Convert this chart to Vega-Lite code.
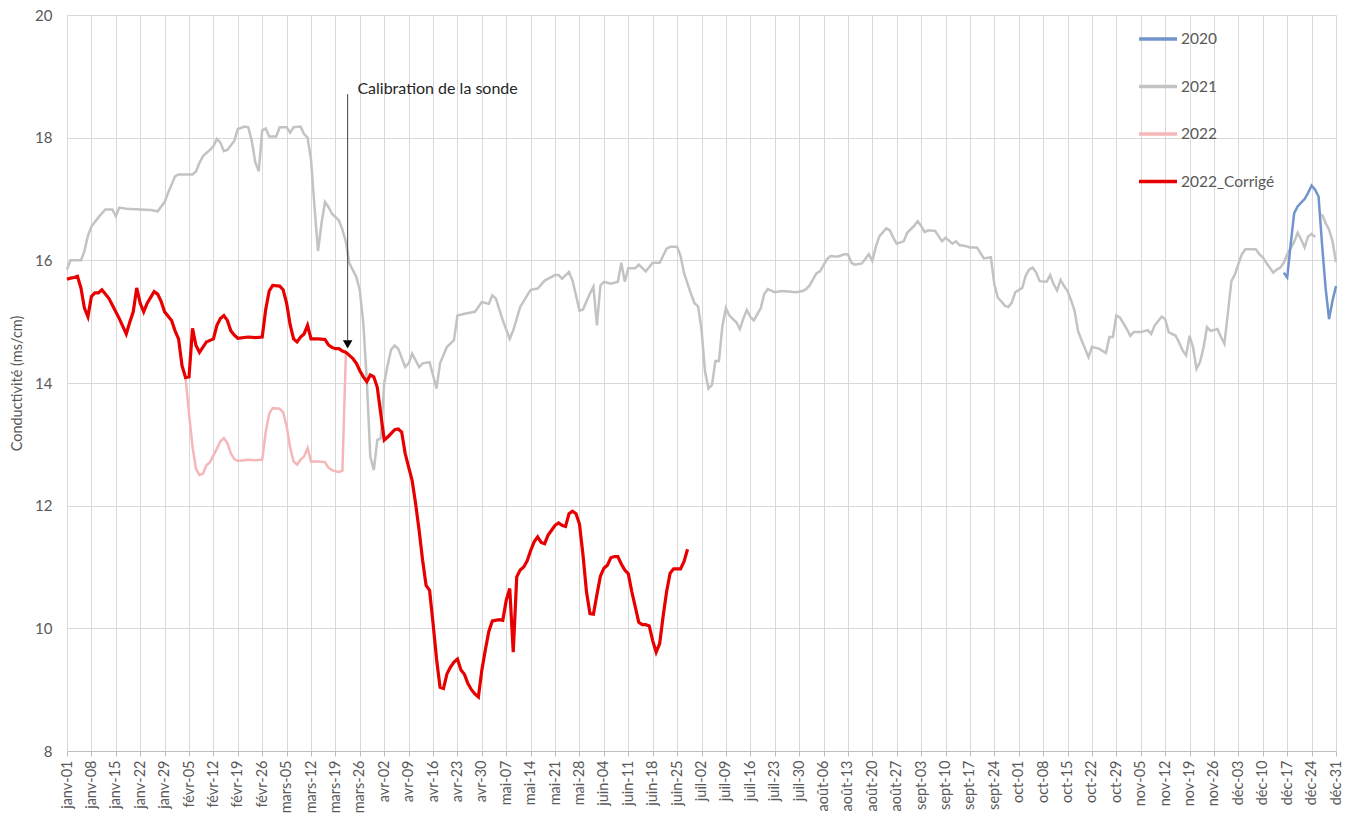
{
  "$schema": "https://vega.github.io/schema/vega-lite/v6.json",
  "width": 1269,
  "height": 736,
  "autosize": "none",
  "padding": {"left": 67, "top": 15, "right": 9, "bottom": 66},
  "background": "white",
  "config": {
    "view": {"stroke": null},
    "font": "Lato",
    "axis": {"labelFont": "Lato", "titleFont": "Lato", "gridColor": "#d9d9d9", "gridWidth": 1},
    "legend": {"labelFont": "Lato"}
  },
  "datasets": {
    "series": [
      {"serie":"2021","jour":0,"valeur":15.85},{"serie":"2021","jour":1,"valeur":16.0},{"serie":"2021","jour":4,"valeur":16.0},{"serie":"2021","jour":5,"valeur":16.15},{"serie":"2021","jour":6,"valeur":16.4},{"serie":"2021","jour":7,"valeur":16.55},{"serie":"2021","jour":9,"valeur":16.7},{"serie":"2021","jour":11,"valeur":16.83},{"serie":"2021","jour":13,"valeur":16.83},{"serie":"2021","jour":14,"valeur":16.72},{"serie":"2021","jour":15,"valeur":16.86},{"serie":"2021","jour":17,"valeur":16.84},{"serie":"2021","jour":21,"valeur":16.83},{"serie":"2021","jour":24,"valeur":16.82},{"serie":"2021","jour":26,"valeur":16.8},{"serie":"2021","jour":28,"valeur":16.95},{"serie":"2021","jour":29,"valeur":17.1},{"serie":"2021","jour":31,"valeur":17.37},{"serie":"2021","jour":32,"valeur":17.4},{"serie":"2021","jour":36,"valeur":17.4},{"serie":"2021","jour":37,"valeur":17.45},{"serie":"2021","jour":38,"valeur":17.59},{"serie":"2021","jour":39,"valeur":17.7},{"serie":"2021","jour":41,"valeur":17.8},{"serie":"2021","jour":42,"valeur":17.86},{"serie":"2021","jour":43,"valeur":17.98},{"serie":"2021","jour":44,"valeur":17.92},{"serie":"2021","jour":45,"valeur":17.78},{"serie":"2021","jour":46,"valeur":17.8},{"serie":"2021","jour":48,"valeur":17.95},{"serie":"2021","jour":49,"valeur":18.14},{"serie":"2021","jour":51,"valeur":18.18},{"serie":"2021","jour":52,"valeur":18.17},{"serie":"2021","jour":53,"valeur":17.95},{"serie":"2021","jour":54,"valeur":17.6},{"serie":"2021","jour":55,"valeur":17.45},{"serie":"2021","jour":56,"valeur":18.12},{"serie":"2021","jour":57,"valeur":18.15},{"serie":"2021","jour":58,"valeur":18.02},{"serie":"2021","jour":60,"valeur":18.02},{"serie":"2021","jour":61,"valeur":18.17},{"serie":"2021","jour":63,"valeur":18.17},{"serie":"2021","jour":64,"valeur":18.08},{"serie":"2021","jour":65,"valeur":18.17},{"serie":"2021","jour":67,"valeur":18.18},{"serie":"2021","jour":68,"valeur":18.06},{"serie":"2021","jour":69,"valeur":18.0},{"serie":"2021","jour":70,"valeur":17.64},{"serie":"2021","jour":71,"valeur":16.87},{"serie":"2021","jour":72,"valeur":16.15},{"serie":"2021","jour":73,"valeur":16.6},{"serie":"2021","jour":74,"valeur":16.95},{"serie":"2021","jour":75,"valeur":16.87},{"serie":"2021","jour":76,"valeur":16.76},{"serie":"2021","jour":78,"valeur":16.65},{"serie":"2021","jour":79,"valeur":16.5},{"serie":"2021","jour":80,"valeur":16.3},{"serie":"2021","jour":81,"valeur":15.95},{"serie":"2021","jour":83,"valeur":15.73},{"serie":"2021","jour":84,"valeur":15.51},{"serie":"2021","jour":85,"valeur":14.97},{"serie":"2021","jour":86,"valeur":14.04},{"serie":"2021","jour":87,"valeur":12.8},{"serie":"2021","jour":88,"valeur":12.58},{"serie":"2021","jour":89,"valeur":13.07},{"serie":"2021","jour":90,"valeur":13.1},{"serie":"2021","jour":91,"valeur":14.0},{"serie":"2021","jour":92,"valeur":14.3},{"serie":"2021","jour":93,"valeur":14.55},{"serie":"2021","jour":94,"valeur":14.61},{"serie":"2021","jour":95,"valeur":14.56},{"serie":"2021","jour":97,"valeur":14.26},{"serie":"2021","jour":98,"valeur":14.32},{"serie":"2021","jour":99,"valeur":14.48},{"serie":"2021","jour":101,"valeur":14.26},{"serie":"2021","jour":102,"valeur":14.32},{"serie":"2021","jour":104,"valeur":14.34},{"serie":"2021","jour":106,"valeur":13.91},{"serie":"2021","jour":107,"valeur":14.32},{"serie":"2021","jour":109,"valeur":14.59},{"serie":"2021","jour":111,"valeur":14.7},{"serie":"2021","jour":112,"valeur":15.1},{"serie":"2021","jour":114,"valeur":15.13},{"serie":"2021","jour":117,"valeur":15.16},{"serie":"2021","jour":119,"valeur":15.32},{"serie":"2021","jour":121,"valeur":15.29},{"serie":"2021","jour":122,"valeur":15.43},{"serie":"2021","jour":123,"valeur":15.38},{"serie":"2021","jour":125,"valeur":15.02},{"serie":"2021","jour":127,"valeur":14.72},{"serie":"2021","jour":128,"valeur":14.86},{"serie":"2021","jour":130,"valeur":15.24},{"serie":"2021","jour":132,"valeur":15.43},{"serie":"2021","jour":133,"valeur":15.52},{"serie":"2021","jour":135,"valeur":15.54},{"serie":"2021","jour":137,"valeur":15.67},{"serie":"2021","jour":140,"valeur":15.76},{"serie":"2021","jour":141,"valeur":15.76},{"serie":"2021","jour":142,"valeur":15.7},{"serie":"2021","jour":144,"valeur":15.81},{"serie":"2021","jour":145,"valeur":15.67},{"serie":"2021","jour":146,"valeur":15.43},{"serie":"2021","jour":147,"valeur":15.18},{"serie":"2021","jour":148,"valeur":15.2},{"serie":"2021","jour":150,"valeur":15.46},{"serie":"2021","jour":151,"valeur":15.57},{"serie":"2021","jour":152,"valeur":14.94},{"serie":"2021","jour":153,"valeur":15.59},{"serie":"2021","jour":154,"valeur":15.65},{"serie":"2021","jour":156,"valeur":15.62},{"serie":"2021","jour":158,"valeur":15.65},{"serie":"2021","jour":159,"valeur":15.96},{"serie":"2021","jour":160,"valeur":15.65},{"serie":"2021","jour":161,"valeur":15.87},{"serie":"2021","jour":163,"valeur":15.87},{"serie":"2021","jour":164,"valeur":15.93},{"serie":"2021","jour":166,"valeur":15.82},{"serie":"2021","jour":168,"valeur":15.96},{"serie":"2021","jour":170,"valeur":15.96},{"serie":"2021","jour":172,"valeur":16.19},{"serie":"2021","jour":173,"valeur":16.22},{"serie":"2021","jour":175,"valeur":16.22},{"serie":"2021","jour":176,"valeur":16.07},{"serie":"2021","jour":177,"valeur":15.79},{"serie":"2021","jour":179,"valeur":15.45},{"serie":"2021","jour":180,"valeur":15.3},{"serie":"2021","jour":181,"valeur":15.25},{"serie":"2021","jour":182,"valeur":14.88},{"serie":"2021","jour":183,"valeur":14.19},{"serie":"2021","jour":184,"valeur":13.91},{"serie":"2021","jour":185,"valeur":13.97},{"serie":"2021","jour":186,"valeur":14.36},{"serie":"2021","jour":187,"valeur":14.36},{"serie":"2021","jour":188,"valeur":14.93},{"serie":"2021","jour":189,"valeur":15.22},{"serie":"2021","jour":190,"valeur":15.1},{"serie":"2021","jour":192,"valeur":14.99},{"serie":"2021","jour":193,"valeur":14.88},{"serie":"2021","jour":194,"valeur":15.05},{"serie":"2021","jour":195,"valeur":15.19},{"serie":"2021","jour":196,"valeur":15.08},{"serie":"2021","jour":197,"valeur":15.02},{"serie":"2021","jour":199,"valeur":15.22},{"serie":"2021","jour":200,"valeur":15.45},{"serie":"2021","jour":201,"valeur":15.53},{"serie":"2021","jour":203,"valeur":15.48},{"serie":"2021","jour":205,"valeur":15.5},{"serie":"2021","jour":207,"valeur":15.49},{"serie":"2021","jour":209,"valeur":15.48},{"serie":"2021","jour":211,"valeur":15.5},{"serie":"2021","jour":212,"valeur":15.53},{"serie":"2021","jour":213,"valeur":15.59},{"serie":"2021","jour":215,"valeur":15.79},{"serie":"2021","jour":216,"valeur":15.82},{"serie":"2021","jour":218,"valeur":16.02},{"serie":"2021","jour":219,"valeur":16.07},{"serie":"2021","jour":221,"valeur":16.06},{"serie":"2021","jour":223,"valeur":16.1},{"serie":"2021","jour":224,"valeur":16.1},{"serie":"2021","jour":225,"valeur":15.96},{"serie":"2021","jour":226,"valeur":15.93},{"serie":"2021","jour":228,"valeur":15.95},{"serie":"2021","jour":230,"valeur":16.1},{"serie":"2021","jour":231,"valeur":15.99},{"serie":"2021","jour":232,"valeur":16.22},{"serie":"2021","jour":233,"valeur":16.39},{"serie":"2021","jour":235,"valeur":16.52},{"serie":"2021","jour":236,"valeur":16.49},{"serie":"2021","jour":237,"valeur":16.37},{"serie":"2021","jour":238,"valeur":16.27},{"serie":"2021","jour":240,"valeur":16.31},{"serie":"2021","jour":241,"valeur":16.45},{"serie":"2021","jour":243,"valeur":16.56},{"serie":"2021","jour":244,"valeur":16.64},{"serie":"2021","jour":245,"valeur":16.56},{"serie":"2021","jour":246,"valeur":16.46},{"serie":"2021","jour":247,"valeur":16.49},{"serie":"2021","jour":249,"valeur":16.48},{"serie":"2021","jour":251,"valeur":16.31},{"serie":"2021","jour":252,"valeur":16.37},{"serie":"2021","jour":254,"valeur":16.27},{"serie":"2021","jour":255,"valeur":16.31},{"serie":"2021","jour":256,"valeur":16.25},{"serie":"2021","jour":258,"valeur":16.23},{"serie":"2021","jour":259,"valeur":16.21},{"serie":"2021","jour":261,"valeur":16.21},{"serie":"2021","jour":262,"valeur":16.12},{"serie":"2021","jour":263,"valeur":16.03},{"serie":"2021","jour":265,"valeur":16.05},{"serie":"2021","jour":266,"valeur":15.61},{"serie":"2021","jour":267,"valeur":15.39},{"serie":"2021","jour":268,"valeur":15.33},{"serie":"2021","jour":269,"valeur":15.26},{"serie":"2021","jour":270,"valeur":15.24},{"serie":"2021","jour":271,"valeur":15.31},{"serie":"2021","jour":272,"valeur":15.48},{"serie":"2021","jour":274,"valeur":15.55},{"serie":"2021","jour":275,"valeur":15.75},{"serie":"2021","jour":276,"valeur":15.85},{"serie":"2021","jour":277,"valeur":15.88},{"serie":"2021","jour":278,"valeur":15.8},{"serie":"2021","jour":279,"valeur":15.66},{"serie":"2021","jour":281,"valeur":15.65},{"serie":"2021","jour":282,"valeur":15.76},{"serie":"2021","jour":283,"valeur":15.61},{"serie":"2021","jour":284,"valeur":15.51},{"serie":"2021","jour":285,"valeur":15.68},{"serie":"2021","jour":286,"valeur":15.58},{"serie":"2021","jour":287,"valeur":15.5},{"serie":"2021","jour":288,"valeur":15.35},{"serie":"2021","jour":289,"valeur":15.18},{"serie":"2021","jour":290,"valeur":14.85},{"serie":"2021","jour":291,"valeur":14.7},{"serie":"2021","jour":292,"valeur":14.56},{"serie":"2021","jour":293,"valeur":14.42},{"serie":"2021","jour":294,"valeur":14.59},{"serie":"2021","jour":296,"valeur":14.56},{"serie":"2021","jour":298,"valeur":14.49},{"serie":"2021","jour":299,"valeur":14.75},{"serie":"2021","jour":300,"valeur":14.75},{"serie":"2021","jour":301,"valeur":15.1},{"serie":"2021","jour":302,"valeur":15.07},{"serie":"2021","jour":304,"valeur":14.88},{"serie":"2021","jour":305,"valeur":14.77},{"serie":"2021","jour":306,"valeur":14.83},{"serie":"2021","jour":308,"valeur":14.83},{"serie":"2021","jour":310,"valeur":14.86},{"serie":"2021","jour":311,"valeur":14.8},{"serie":"2021","jour":312,"valeur":14.94},{"serie":"2021","jour":314,"valeur":15.08},{"serie":"2021","jour":315,"valeur":15.04},{"serie":"2021","jour":316,"valeur":14.83},{"serie":"2021","jour":318,"valeur":14.77},{"serie":"2021","jour":319,"valeur":14.66},{"serie":"2021","jour":320,"valeur":14.53},{"serie":"2021","jour":321,"valeur":14.45},{"serie":"2021","jour":322,"valeur":14.77},{"serie":"2021","jour":323,"valeur":14.58},{"serie":"2021","jour":324,"valeur":14.23},{"serie":"2021","jour":325,"valeur":14.34},{"serie":"2021","jour":326,"valeur":14.58},{"serie":"2021","jour":327,"valeur":14.91},{"serie":"2021","jour":328,"valeur":14.85},{"serie":"2021","jour":330,"valeur":14.88},{"serie":"2021","jour":331,"valeur":14.75},{"serie":"2021","jour":332,"valeur":14.64},{"serie":"2021","jour":333,"valeur":15.15},{"serie":"2021","jour":334,"valeur":15.66},{"serie":"2021","jour":335,"valeur":15.77},{"serie":"2021","jour":336,"valeur":15.94},{"serie":"2021","jour":337,"valeur":16.1},{"serie":"2021","jour":338,"valeur":16.18},{"serie":"2021","jour":341,"valeur":16.18},{"serie":"2021","jour":342,"valeur":16.1},{"serie":"2021","jour":343,"valeur":16.05},{"serie":"2021","jour":344,"valeur":15.96},{"serie":"2021","jour":346,"valeur":15.8},{"serie":"2021","jour":347,"valeur":15.85},{"serie":"2021","jour":348,"valeur":15.88},{"serie":"2021","jour":349,"valeur":15.96},{"serie":"2021","jour":350,"valeur":16.1},{"serie":"2021","jour":351,"valeur":16.2},{"serie":"2021","jour":352,"valeur":16.3},{"serie":"2021","jour":353,"valeur":16.45},{"serie":"2021","jour":354,"valeur":16.34},{"serie":"2021","jour":355,"valeur":16.21},{"serie":"2021","jour":356,"valeur":16.39},{"serie":"2021","jour":357,"valeur":16.43},{"serie":"2021","jour":358,"valeur":16.38},{"serie":"2021","jour":359,"valeur":null},{"serie":"2021","jour":360,"valeur":16.75},{"serie":"2021","jour":361,"valeur":16.61},{"serie":"2021","jour":362,"valeur":16.5},{"serie":"2021","jour":363,"valeur":16.31},{"serie":"2021","jour":364,"valeur":15.97},

      {"serie":"2022","jour":34,"valeur":14.09},{"serie":"2022","jour":35,"valeur":13.5},{"serie":"2022","jour":36,"valeur":12.96},{"serie":"2022","jour":37,"valeur":12.6},{"serie":"2022","jour":38,"valeur":12.5},{"serie":"2022","jour":39,"valeur":12.52},{"serie":"2022","jour":40,"valeur":12.66},{"serie":"2022","jour":41,"valeur":12.71},{"serie":"2022","jour":43,"valeur":12.93},{"serie":"2022","jour":44,"valeur":13.05},{"serie":"2022","jour":45,"valeur":13.1},{"serie":"2022","jour":46,"valeur":13.02},{"serie":"2022","jour":47,"valeur":12.85},{"serie":"2022","jour":48,"valeur":12.76},{"serie":"2022","jour":49,"valeur":12.73},{"serie":"2022","jour":52,"valeur":12.75},{"serie":"2022","jour":54,"valeur":12.74},{"serie":"2022","jour":56,"valeur":12.75},{"serie":"2022","jour":57,"valeur":13.2},{"serie":"2022","jour":58,"valeur":13.5},{"serie":"2022","jour":59,"valeur":13.59},{"serie":"2022","jour":61,"valeur":13.58},{"serie":"2022","jour":62,"valeur":13.52},{"serie":"2022","jour":63,"valeur":13.3},{"serie":"2022","jour":64,"valeur":12.95},{"serie":"2022","jour":65,"valeur":12.72},{"serie":"2022","jour":66,"valeur":12.67},{"serie":"2022","jour":67,"valeur":12.75},{"serie":"2022","jour":68,"valeur":12.8},{"serie":"2022","jour":69,"valeur":12.94},{"serie":"2022","jour":70,"valeur":12.72},{"serie":"2022","jour":72,"valeur":12.72},{"serie":"2022","jour":74,"valeur":12.71},{"serie":"2022","jour":75,"valeur":12.62},{"serie":"2022","jour":76,"valeur":12.58},{"serie":"2022","jour":77,"valeur":12.56},{"serie":"2022","jour":78,"valeur":12.55},{"serie":"2022","jour":79,"valeur":12.57},{"serie":"2022","jour":80,"valeur":14.5},{"serie":"2022","jour":81,"valeur":14.45},

      {"serie":"2022_Corrigé","jour":0,"valeur":15.69},{"serie":"2022_Corrigé","jour":1,"valeur":15.71},{"serie":"2022_Corrigé","jour":2,"valeur":15.72},{"serie":"2022_Corrigé","jour":3,"valeur":15.74},{"serie":"2022_Corrigé","jour":4,"valeur":15.55},{"serie":"2022_Corrigé","jour":5,"valeur":15.22},{"serie":"2022_Corrigé","jour":6,"valeur":15.08},{"serie":"2022_Corrigé","jour":7,"valeur":15.41},{"serie":"2022_Corrigé","jour":8,"valeur":15.47},{"serie":"2022_Corrigé","jour":9,"valeur":15.47},{"serie":"2022_Corrigé","jour":10,"valeur":15.52},{"serie":"2022_Corrigé","jour":11,"valeur":15.45},{"serie":"2022_Corrigé","jour":12,"valeur":15.38},{"serie":"2022_Corrigé","jour":13,"valeur":15.27},{"serie":"2022_Corrigé","jour":15,"valeur":15.05},{"serie":"2022_Corrigé","jour":17,"valeur":14.8},{"serie":"2022_Corrigé","jour":18,"valeur":14.99},{"serie":"2022_Corrigé","jour":19,"valeur":15.16},{"serie":"2022_Corrigé","jour":20,"valeur":15.55},{"serie":"2022_Corrigé","jour":21,"valeur":15.3},{"serie":"2022_Corrigé","jour":22,"valeur":15.16},{"serie":"2022_Corrigé","jour":23,"valeur":15.3},{"serie":"2022_Corrigé","jour":25,"valeur":15.49},{"serie":"2022_Corrigé","jour":26,"valeur":15.45},{"serie":"2022_Corrigé","jour":27,"valeur":15.33},{"serie":"2022_Corrigé","jour":28,"valeur":15.16},{"serie":"2022_Corrigé","jour":30,"valeur":15.02},{"serie":"2022_Corrigé","jour":31,"valeur":14.85},{"serie":"2022_Corrigé","jour":32,"valeur":14.72},{"serie":"2022_Corrigé","jour":33,"valeur":14.28},{"serie":"2022_Corrigé","jour":34,"valeur":14.09},{"serie":"2022_Corrigé","jour":35,"valeur":14.1},{"serie":"2022_Corrigé","jour":36,"valeur":14.89},{"serie":"2022_Corrigé","jour":37,"valeur":14.61},{"serie":"2022_Corrigé","jour":38,"valeur":14.5},{"serie":"2022_Corrigé","jour":40,"valeur":14.67},{"serie":"2022_Corrigé","jour":42,"valeur":14.72},{"serie":"2022_Corrigé","jour":43,"valeur":14.94},{"serie":"2022_Corrigé","jour":44,"valeur":15.05},{"serie":"2022_Corrigé","jour":45,"valeur":15.1},{"serie":"2022_Corrigé","jour":46,"valeur":15.02},{"serie":"2022_Corrigé","jour":47,"valeur":14.85},{"serie":"2022_Corrigé","jour":48,"valeur":14.78},{"serie":"2022_Corrigé","jour":49,"valeur":14.73},{"serie":"2022_Corrigé","jour":52,"valeur":14.75},{"serie":"2022_Corrigé","jour":54,"valeur":14.74},{"serie":"2022_Corrigé","jour":56,"valeur":14.75},{"serie":"2022_Corrigé","jour":57,"valeur":15.2},{"serie":"2022_Corrigé","jour":58,"valeur":15.5},{"serie":"2022_Corrigé","jour":59,"valeur":15.59},{"serie":"2022_Corrigé","jour":61,"valeur":15.58},{"serie":"2022_Corrigé","jour":62,"valeur":15.52},{"serie":"2022_Corrigé","jour":63,"valeur":15.3},{"serie":"2022_Corrigé","jour":64,"valeur":14.95},{"serie":"2022_Corrigé","jour":65,"valeur":14.72},{"serie":"2022_Corrigé","jour":66,"valeur":14.67},{"serie":"2022_Corrigé","jour":67,"valeur":14.75},{"serie":"2022_Corrigé","jour":68,"valeur":14.8},{"serie":"2022_Corrigé","jour":69,"valeur":14.94},{"serie":"2022_Corrigé","jour":70,"valeur":14.72},{"serie":"2022_Corrigé","jour":72,"valeur":14.72},{"serie":"2022_Corrigé","jour":74,"valeur":14.71},{"serie":"2022_Corrigé","jour":75,"valeur":14.62},{"serie":"2022_Corrigé","jour":76,"valeur":14.58},{"serie":"2022_Corrigé","jour":77,"valeur":14.56},{"serie":"2022_Corrigé","jour":78,"valeur":14.56},{"serie":"2022_Corrigé","jour":79,"valeur":14.52},{"serie":"2022_Corrigé","jour":80,"valeur":14.5},{"serie":"2022_Corrigé","jour":81,"valeur":14.45},{"serie":"2022_Corrigé","jour":82,"valeur":14.4},{"serie":"2022_Corrigé","jour":83,"valeur":14.32},{"serie":"2022_Corrigé","jour":84,"valeur":14.2},{"serie":"2022_Corrigé","jour":85,"valeur":14.1},{"serie":"2022_Corrigé","jour":86,"valeur":14.02},{"serie":"2022_Corrigé","jour":87,"valeur":14.13},{"serie":"2022_Corrigé","jour":88,"valeur":14.1},{"serie":"2022_Corrigé","jour":89,"valeur":13.93},{"serie":"2022_Corrigé","jour":90,"valeur":13.5},{"serie":"2022_Corrigé","jour":91,"valeur":13.07},{"serie":"2022_Corrigé","jour":92,"valeur":13.12},{"serie":"2022_Corrigé","jour":93,"valeur":13.18},{"serie":"2022_Corrigé","jour":94,"valeur":13.24},{"serie":"2022_Corrigé","jour":95,"valeur":13.25},{"serie":"2022_Corrigé","jour":96,"valeur":13.2},{"serie":"2022_Corrigé","jour":97,"valeur":12.85},{"serie":"2022_Corrigé","jour":98,"valeur":12.63},{"serie":"2022_Corrigé","jour":99,"valeur":12.41},{"serie":"2022_Corrigé","jour":100,"valeur":12.03},{"serie":"2022_Corrigé","jour":101,"valeur":11.6},{"serie":"2022_Corrigé","jour":102,"valeur":11.11},{"serie":"2022_Corrigé","jour":103,"valeur":10.7},{"serie":"2022_Corrigé","jour":104,"valeur":10.62},{"serie":"2022_Corrigé","jour":105,"valeur":10.08},{"serie":"2022_Corrigé","jour":106,"valeur":9.5},{"serie":"2022_Corrigé","jour":107,"valeur":9.04},{"serie":"2022_Corrigé","jour":108,"valeur":9.02},{"serie":"2022_Corrigé","jour":109,"valeur":9.26},{"serie":"2022_Corrigé","jour":110,"valeur":9.37},{"serie":"2022_Corrigé","jour":111,"valeur":9.45},{"serie":"2022_Corrigé","jour":112,"valeur":9.5},{"serie":"2022_Corrigé","jour":113,"valeur":9.32},{"serie":"2022_Corrigé","jour":114,"valeur":9.25},{"serie":"2022_Corrigé","jour":115,"valeur":9.1},{"serie":"2022_Corrigé","jour":116,"valeur":9.0},{"serie":"2022_Corrigé","jour":117,"valeur":8.93},{"serie":"2022_Corrigé","jour":118,"valeur":8.88},{"serie":"2022_Corrigé","jour":119,"valeur":9.32},{"serie":"2022_Corrigé","jour":120,"valeur":9.65},{"serie":"2022_Corrigé","jour":121,"valeur":9.95},{"serie":"2022_Corrigé","jour":122,"valeur":10.12},{"serie":"2022_Corrigé","jour":124,"valeur":10.14},{"serie":"2022_Corrigé","jour":125,"valeur":10.13},{"serie":"2022_Corrigé","jour":126,"valeur":10.46},{"serie":"2022_Corrigé","jour":127,"valeur":10.65},{"serie":"2022_Corrigé","jour":128,"valeur":9.61},{"serie":"2022_Corrigé","jour":129,"valeur":10.84},{"serie":"2022_Corrigé","jour":130,"valeur":10.95},{"serie":"2022_Corrigé","jour":131,"valeur":11.0},{"serie":"2022_Corrigé","jour":132,"valeur":11.1},{"serie":"2022_Corrigé","jour":133,"valeur":11.27},{"serie":"2022_Corrigé","jour":134,"valeur":11.41},{"serie":"2022_Corrigé","jour":135,"valeur":11.49},{"serie":"2022_Corrigé","jour":136,"valeur":11.4},{"serie":"2022_Corrigé","jour":137,"valeur":11.38},{"serie":"2022_Corrigé","jour":138,"valeur":11.52},{"serie":"2022_Corrigé","jour":139,"valeur":11.6},{"serie":"2022_Corrigé","jour":140,"valeur":11.68},{"serie":"2022_Corrigé","jour":141,"valeur":11.72},{"serie":"2022_Corrigé","jour":142,"valeur":11.68},{"serie":"2022_Corrigé","jour":143,"valeur":11.66},{"serie":"2022_Corrigé","jour":144,"valeur":11.87},{"serie":"2022_Corrigé","jour":145,"valeur":11.91},{"serie":"2022_Corrigé","jour":146,"valeur":11.87},{"serie":"2022_Corrigé","jour":147,"valeur":11.7},{"serie":"2022_Corrigé","jour":148,"valeur":11.2},{"serie":"2022_Corrigé","jour":149,"valeur":10.6},{"serie":"2022_Corrigé","jour":150,"valeur":10.24},{"serie":"2022_Corrigé","jour":151,"valeur":10.23},{"serie":"2022_Corrigé","jour":152,"valeur":10.55},{"serie":"2022_Corrigé","jour":153,"valeur":10.85},{"serie":"2022_Corrigé","jour":154,"valeur":10.98},{"serie":"2022_Corrigé","jour":155,"valeur":11.03},{"serie":"2022_Corrigé","jour":156,"valeur":11.15},{"serie":"2022_Corrigé","jour":157,"valeur":11.17},{"serie":"2022_Corrigé","jour":158,"valeur":11.17},{"serie":"2022_Corrigé","jour":159,"valeur":11.05},{"serie":"2022_Corrigé","jour":160,"valeur":10.95},{"serie":"2022_Corrigé","jour":161,"valeur":10.89},{"serie":"2022_Corrigé","jour":162,"valeur":10.6},{"serie":"2022_Corrigé","jour":163,"valeur":10.35},{"serie":"2022_Corrigé","jour":164,"valeur":10.1},{"serie":"2022_Corrigé","jour":165,"valeur":10.06},{"serie":"2022_Corrigé","jour":166,"valeur":10.06},{"serie":"2022_Corrigé","jour":167,"valeur":10.04},{"serie":"2022_Corrigé","jour":168,"valeur":9.8},{"serie":"2022_Corrigé","jour":169,"valeur":9.61},{"serie":"2022_Corrigé","jour":170,"valeur":9.75},{"serie":"2022_Corrigé","jour":171,"valeur":10.2},{"serie":"2022_Corrigé","jour":172,"valeur":10.6},{"serie":"2022_Corrigé","jour":173,"valeur":10.9},{"serie":"2022_Corrigé","jour":174,"valeur":10.97},{"serie":"2022_Corrigé","jour":175,"valeur":10.97},{"serie":"2022_Corrigé","jour":176,"valeur":10.97},{"serie":"2022_Corrigé","jour":177,"valeur":11.09},{"serie":"2022_Corrigé","jour":178,"valeur":11.29},

      {"serie":"2020","jour":349,"valeur":15.8},{"serie":"2020","jour":350,"valeur":15.72},{"serie":"2020","jour":351,"valeur":16.26},{"serie":"2020","jour":352,"valeur":16.77},{"serie":"2020","jour":353,"valeur":16.88},{"serie":"2020","jour":354,"valeur":16.94},{"serie":"2020","jour":355,"valeur":17.0},{"serie":"2020","jour":356,"valeur":17.1},{"serie":"2020","jour":357,"valeur":17.22},{"serie":"2020","jour":358,"valeur":17.15},{"serie":"2020","jour":359,"valeur":17.04},{"serie":"2020","jour":360,"valeur":16.26},{"serie":"2020","jour":361,"valeur":15.56},{"serie":"2020","jour":362,"valeur":15.04},{"serie":"2020","jour":363,"valeur":15.34},{"serie":"2020","jour":364,"valeur":15.58}
    ]
  },
  "data": {"name": "series"},
  "encoding": {
    "x": {
      "field": "jour",
      "type": "quantitative",
      "scale": {"domain": [0, 364], "nice": false, "zero": false},
      "axis": {
        "title": null,
        "values": [0,7,14,21,28,35,42,49,56,63,70,77,84,91,98,105,112,119,126,133,140,147,154,161,168,175,182,189,196,203,210,217,224,231,238,245,252,259,266,273,280,287,294,301,308,315,322,329,336,343,350,357,364],
        "labelExpr": "['janv','févr','mars','avr','mai','juin','juil','août','sept','oct','nov','déc'][month(datetime(2021,0,1+datum.value))] + '-' + timeFormat(datetime(2021,0,1+datum.value),'%d')",
        "labelAngle": -90,
        "labelFontSize": 14.5,
        "labelColor": "#595959",
        "labelPadding": 4,
        "labelFlush": false,
        "labelOverlap": false,
        "grid": true,
        "domainColor": "#bfbfbf",
        "tickColor": "#bfbfbf",
        "tickSize": 5
      }
    },
    "y": {
      "field": "valeur",
      "type": "quantitative",
      "scale": {"domain": [8, 20], "nice": false, "zero": false},
      "axis": {
        "title": "Conductivité (ms/cm)",
        "values": [8,10,12,14,16,18,20],
        "grid": true,
        "domain": false,
        "ticks": false,
        "labelFontSize": 15,
        "labelColor": "#595959",
        "labelPadding": 15,
        "titleFontSize": 14.5,
        "titleFontWeight": "normal",
        "titleColor": "#595959",
        "titlePadding": 10
      }
    },
    "color": {
      "field": "serie",
      "type": "nominal",
      "scale": {"domain": ["2020","2021","2022","2022_Corrigé"], "range": ["#7294cc","#c3c3c3","#f5b7b7","#e80000"]},
      "legend": {
        "title": null,
        "orient": "none",
        "legendX": 1070,
        "legendY": 3,
        "direction": "vertical",
        "symbolType": "stroke",
        "symbolSize": 1444,
        "symbolStrokeWidth": 3.5,
        "rowPadding": 17.5,
        "labelOffset": 2,
        "labelFontSize": 15.5,
        "labelColor": "#595959",
        "padding": 0
      }
    }
  },
  "layer": [
    {"transform": [{"filter": "datum.serie == '2021'"}], "mark": {"type": "line", "strokeWidth": 2.5}},
    {"transform": [{"filter": "datum.serie == '2022'"}], "mark": {"type": "line", "strokeWidth": 2.5}},
    {"transform": [{"filter": "datum.serie == '2022_Corrigé'"}], "mark": {"type": "line", "strokeWidth": 3.2}},
    {"transform": [{"filter": "datum.serie == '2020'"}], "mark": {"type": "line", "strokeWidth": 2.5}},
    {
      "data": {"values": [{"jour": 80.5, "haut": 18.71, "bas": 14.7}]},
      "mark": {"type": "rule", "color": "#404040", "strokeWidth": 1},
      "encoding": {"x": {"field": "jour", "type": "quantitative"}, "y": {"field": "haut", "type": "quantitative"}, "y2": {"field": "bas"}, "color": null}
    },
    {
      "data": {"values": [{"jour": 80.5, "valeur": 14.63}]},
      "mark": {"type": "point", "shape": "triangle-down", "filled": true, "color": "#000000", "size": 90, "opacity": 1},
      "encoding": {"x": {"field": "jour", "type": "quantitative"}, "y": {"field": "valeur", "type": "quantitative"}, "color": null}
    },
    {
      "data": {"values": [{"jour": 83.3, "valeur": 18.79, "texte": "Calibration de la sonde"}]},
      "mark": {"type": "text", "align": "left", "baseline": "middle", "font": "Lato", "fontSize": 16, "color": "#262626"},
      "encoding": {"x": {"field": "jour", "type": "quantitative"}, "y": {"field": "valeur", "type": "quantitative"}, "text": {"field": "texte"}, "color": null}
    }
  ]
}
